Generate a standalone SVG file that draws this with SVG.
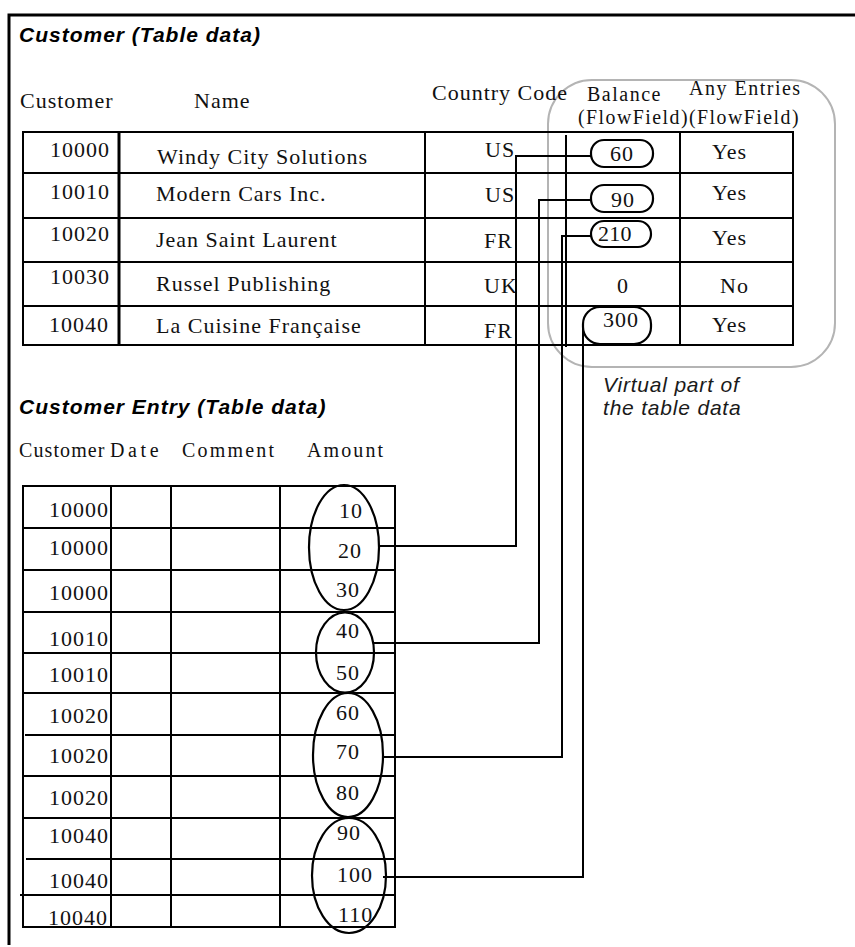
<svg xmlns="http://www.w3.org/2000/svg" width="855" height="947" viewBox="0 0 855 947">
<style>
.ttl{font-family:"Liberation Sans",Arial,sans-serif;font-size:21px;font-weight:bold;font-style:italic;letter-spacing:1px;fill:#000}
.vt{font-family:"Liberation Sans",Arial,sans-serif;font-size:21px;font-style:italic;letter-spacing:0.8px;fill:#1a1a1a}
.s{font-family:"Liberation Serif","Times New Roman",serif;font-size:22px;letter-spacing:1px;fill:#111}
.h{font-family:"Liberation Serif","Times New Roman",serif;font-size:20px;letter-spacing:1.5px;fill:#111}
.ln{stroke:#000;stroke-width:2;fill:none}
.thk{stroke:#000;stroke-width:3;fill:none}
.pill{fill:#fff;stroke:#000;stroke-width:2.2}
.ell{fill:none;stroke:#000;stroke-width:2.2}
.con{fill:none;stroke:#000;stroke-width:2}
</style>
<rect width="855" height="947" fill="#fff"/>
<g id="frame">
<path d="M9,945 V15 H855" class="thk" stroke-width="2.5"/>
</g>
<g id="virtual-area">
<rect x="548" y="80" width="287" height="287" rx="44" fill="none" stroke="#b4b4b4" stroke-width="2"/>
<text class="vt" x="603" y="392">Virtual part of</text>
<text class="vt" x="603" y="415">the table data</text>
</g>
<g id="customer-table">
<text class="ttl" x="19" y="42">Customer (Table data)</text>
<text class="s" x="20" y="108">Customer</text>
<text class="s" x="194" y="108">Name</text>
<text class="s" x="432" y="100">Country Code</text>
<text class="h" x="587" y="101">Balance</text>
<text class="h" x="689" y="95">Any Entries</text>
<text class="h" x="578" y="124" textLength="222" lengthAdjust="spacingAndGlyphs">(FlowField)(FlowField)</text>
<rect x="23" y="132" width="770" height="213" class="ln" stroke-width="2.5"/>
<path d="M23,173 H793 M23,218 H793 M23,262 H793 M23,306 H793" class="ln"/>
<path d="M119,132 V345" class="thk"/>
<path d="M425,132 V345 M680,132 V345" class="ln"/>
<path d="M566,135 V347" class="ln"/>
<g id="row-10000">
<text class="s" x="50" y="157">10000</text>
<text class="s" x="157" y="164">Windy City Solutions</text>
<text class="s" x="485" y="157">US</text>
<text class="s" x="712" y="159">Yes</text>
</g>
<g id="row-10010">
<text class="s" x="50" y="199">10010</text>
<text class="s" x="156" y="201">Modern Cars Inc.</text>
<text class="s" x="485" y="202">US</text>
<text class="s" x="712" y="200">Yes</text>
</g>
<g id="row-10020">
<text class="s" x="50" y="241">10020</text>
<text class="s" x="156" y="247">Jean Saint Laurent</text>
<text class="s" x="484" y="248">FR</text>
<text class="s" x="712" y="245">Yes</text>
</g>
<g id="row-10030">
<text class="s" x="50" y="284">10030</text>
<text class="s" x="156" y="291">Russel Publishing</text>
<text class="s" x="484" y="293">UK</text>
<text class="s" x="617" y="293">0</text>
<text class="s" x="720" y="293">No</text>
</g>
<g id="row-10040">
<text class="s" x="49" y="332">10040</text>
<text class="s" x="156" y="333">La Cuisine Française</text>
<text class="s" x="484" y="338">FR</text>
<text class="s" x="712" y="332">Yes</text>
</g>
</g>
<g id="balance-60"><rect x="591" y="140" width="62" height="27" rx="13" class="pill"/><text class="s" x="610" y="161">60</text></g>
<g id="balance-90"><rect x="591" y="185" width="62" height="27" rx="13" class="pill"/><text class="s" x="611" y="207">90</text></g>
<g id="balance-210"><rect x="591" y="221" width="60" height="26" rx="13" class="pill"/><text class="s" x="598" y="241" style="letter-spacing:0.3px">210</text></g>
<g id="balance-300"><rect x="583" y="307" width="68" height="37" rx="17" class="pill"/><text class="s" x="603" y="327">300</text></g>
<g id="entry-table">
<text class="ttl" x="19" y="414">Customer Entry (Table data)</text>
<text class="h" x="19" y="457" style="letter-spacing:1.1px">Customer</text>
<text class="h" x="110" y="457" style="letter-spacing:3.6px">Date</text>
<text class="h" x="182" y="457" style="letter-spacing:2.2px">Comment</text>
<text class="h" x="307" y="457" style="letter-spacing:2.1px">Amount</text>
<rect x="23" y="486" width="372" height="441" class="ln" stroke-width="2.5"/>
<path d="M23,528 H395 M23,570 H395 M23,612 H395 M23,653 H395 M23,693 H395 M25,735 H395 M23,776 H395 M23,818 H395 M26,859 H395 M20,895 H395" class="ln"/>
<path d="M111,486 V927 M171,486 V927 M280,486 V927" class="ln"/>
<text class="s" x="49" y="517">10000</text>
<text class="s" x="49" y="555">10000</text>
<text class="s" x="49" y="600">10000</text>
<text class="s" x="49" y="646">10010</text>
<text class="s" x="49" y="682">10010</text>
<text class="s" x="49" y="723">10020</text>
<text class="s" x="49" y="763">10020</text>
<text class="s" x="49" y="805">10020</text>
<text class="s" x="49" y="843">10040</text>
<text class="s" x="49" y="888">10040</text>
<text class="s" x="48" y="925">10040</text>
<text class="s" x="339" y="518">10</text>
<text class="s" x="338" y="558">20</text>
<text class="s" x="336" y="597">30</text>
<text class="s" x="336" y="638">40</text>
<text class="s" x="336" y="680">50</text>
<text class="s" x="336" y="720">60</text>
<text class="s" x="336" y="759">70</text>
<text class="s" x="336" y="800">80</text>
<text class="s" x="337" y="840">90</text>
<text class="s" x="337" y="882">100</text>
<text class="s" x="338" y="922">110</text>
</g>
<g id="group-10000"><ellipse cx="344" cy="547.5" rx="35" ry="62.5" class="ell"/></g>
<g id="group-10010"><ellipse cx="345" cy="652.5" rx="29" ry="40" class="ell"/></g>
<g id="group-10020"><ellipse cx="348" cy="755" rx="35" ry="62" class="ell"/></g>
<g id="group-10040"><ellipse cx="349" cy="875.5" rx="37" ry="57.5" class="ell"/></g>
<g id="connectors">
<path d="M379,546 H516 V156 H591" class="con"/>
<path d="M374,643 H539 V200 H591" class="con" stroke-width="1.6"/>
<path d="M383,757 H562 V236 H591" class="con" stroke-width="2.6"/>
<path d="M383,877 H583 V323" class="con"/>
</g>
</svg>
